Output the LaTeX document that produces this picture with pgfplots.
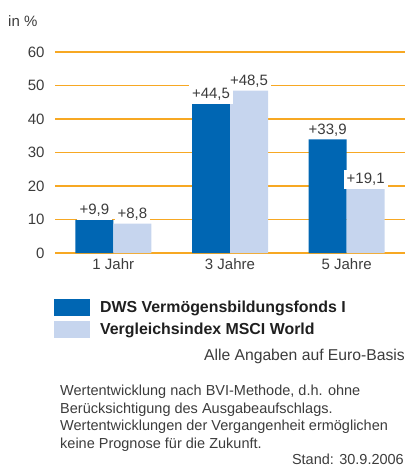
\documentclass[border=0pt]{standalone}
\usepackage{fontspec}
\setmainfont{Liberation Sans}
\usepackage{pgfplots}
\pgfplotsset{compat=1.18}
\definecolor{dblue}{HTML}{0066B3}
\definecolor{lblue}{HTML}{C6D5EE}
\definecolor{gridor}{HTML}{F7A823}
\definecolor{txt}{HTML}{3C3C3C}
\newcommand\fs{\fontsize{15bp}{18bp}\selectfont}
\newcommand\fn{\fontsize{14.5bp}{17.7bp}\selectfont}
\begin{document}
\begin{tikzpicture}
\begin{axis}[
  scale only axis, width=350bp, height=201bp,
  xmin=-0.5, xmax=2.5, ymin=0, ymax=60,
  ybar,
  xtick={0,1,2}, xticklabels={1 Jahr,3 Jahre,5 Jahre},
  ytick={0,10,...,60},
  ymajorgrids, grid style={gridor, line width=1.6bp},
  axis line style={draw=none}, major tick length=0pt,
  tick label style={font=\fs, text=txt},
  yticklabel style={xshift=-7bp},
  xticklabel style={yshift=-2bp},
  /pgf/number format/assume math mode=true,
  clip=false,
  legend style={at={(-0.003,-0.229)}, anchor=north west, draw=none, fill=none,
    font=\fontsize{15.9bp}{18bp}\selectfont\bfseries, text=black!88, inner sep=0pt, row sep=5bp, column sep=10bp,
    nodes={inner sep=0pt}},
  legend cell align=left,
  legend image code/.code={\fill[#1] (0bp,-8.5bp) rectangle (36bp,8.5bp);},
]
% value labels (drawn first, behind the bars)
\addplot[draw=none, fill=none, bar width=0bp, bar shift=0bp, forget plot,
  point meta=explicit symbolic, nodes near coords,
  nodes near coords style={font=\fs, text=txt, fill=white, anchor=south, inner sep=3bp}]
  coordinates {(-0.163,9.9) [+9,9] (0.163,8.8) [+8,8]
               (0.837,44.5) [+44,5] (1.163,48.5) [+48,5]
               (1.837,33.9) [+33,9] (2.163,19.1) [+19,1]};
\addplot[draw=none, fill=dblue, bar width=38bp, bar shift=-19bp]
  coordinates {(0,9.9) (1,44.5) (2,33.9)};
\addplot[draw=none, fill=lblue, bar width=38bp, bar shift=19bp]
  coordinates {(0,8.8) (1,48.5) (2,19.1)};
\legend{DWS Vermögensbildungsfonds I, Vergleichsindex MSCI World}
\end{axis}
\node[anchor=base west, font=\fs, text=txt, inner sep=0pt] at (-47bp,226bp) {in \%};
\node[anchor=base east, font=\fontsize{15.7bp}{18bp}\selectfont, text=txt, inner sep=0pt] at (350bp,-107bp) {Alle Angaben auf Euro-Basis};
\node[anchor=base west, font=\fn, text=txt, inner sep=0pt] at (5bp,-142bp) {Wertentwicklung nach BVI-Methode, d.h. ohne};
\node[anchor=base west, font=\fn, text=txt, inner sep=0pt] at (5bp,-160bp) {Berücksichtigung des Ausgabeaufschlags.};
\node[anchor=base west, font=\fn, text=txt, inner sep=0pt] at (5bp,-177bp) {Wertentwicklungen der Vergangenheit ermöglichen};
\node[anchor=base west, font=\fn, text=txt, inner sep=0pt] at (5bp,-195bp) {keine Prognose für die Zukunft.};
\node[anchor=base east, font=\fn, text=txt, inner sep=0pt] at (349bp,-211bp) {Stand: 30.9.2006};
\path[use as bounding box] (-55bp,-215bp) rectangle (351bp,253bp);
\end{tikzpicture}
\end{document}
